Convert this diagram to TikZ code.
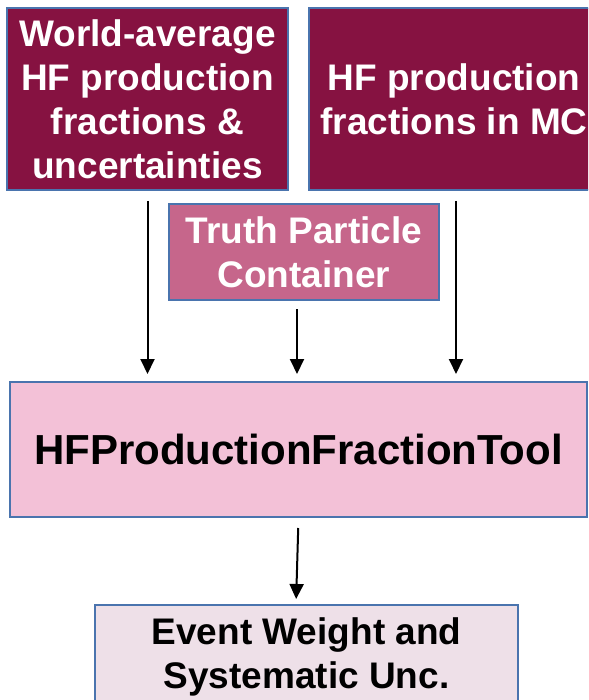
\documentclass[tikz,border=0pt]{standalone}
\usepackage{fontspec}
\setmainfont{Liberation Sans}
\usetikzlibrary{arrows.meta}
\definecolor{hfblue}{HTML}{4A74AE}
\definecolor{hfmaroon}{HTML}{861241}
\definecolor{hfrose}{HTML}{C6668B}
\definecolor{hfpink}{HTML}{F3C1D7}
\definecolor{hfpale}{HTML}{EEE0E8}

\begin{document}
\begin{tikzpicture}[x=1pt,y=1pt]
\tikzstyle{box}=[draw=hfblue, line width=2pt, inner sep=0pt, align=center, font=\fontsize{37}{44}\selectfont\bfseries]
\tikzstyle{flow}=[black, line width=2pt, -{Triangle[length=15pt,width=14pt]}]
\useasboundingbox (0,0) rectangle (588,-700);
\clip (0,0) rectangle (588,-700);
\node [box, fill=hfmaroon, text=white, minimum width=281pt, minimum height=182pt] (wa) at (147.5,-99) {World-average\\HF production\\fractions \&\\uncertainties};
\node [box, fill=hfmaroon, text=white, minimum width=290pt, minimum height=182pt] (mc) at (454,-99) {HF production\\fractions in MC};
\node [box, fill=hfrose, text=white, minimum width=270pt, minimum height=96pt] (truth) at (304,-252) {Truth Particle\\Container};
\node [box, fill=hfpink, minimum width=577pt, minimum height=135pt, font=\fontsize{42}{50}\selectfont\bfseries] (tool) at (298.5,-449.5) {HFProductionFractionTool};
\node [box, fill=hfpale, minimum width=423pt, minimum height=104pt] (weight) at (306.5,-657) {Event Weight and\\Systematic Unc.};
\draw [flow, shorten <=10pt, shorten >=7pt] (wa.south) -- (wa.south |- tool.north);
\draw [flow, shorten <=8pt, shorten >=7pt] ([xshift=-7pt]truth.south) -- ([xshift=-7pt]truth.south |- tool.north);
\draw [flow, shorten <=10pt, shorten >=7pt] ([xshift=2pt]mc.south) -- ([xshift=2pt]mc.south |- tool.north);
\draw [flow, shorten <=10pt, shorten >=5pt] (tool.south) -- ([xshift=-10.5pt]weight.north);
\end{tikzpicture}
\end{document}
